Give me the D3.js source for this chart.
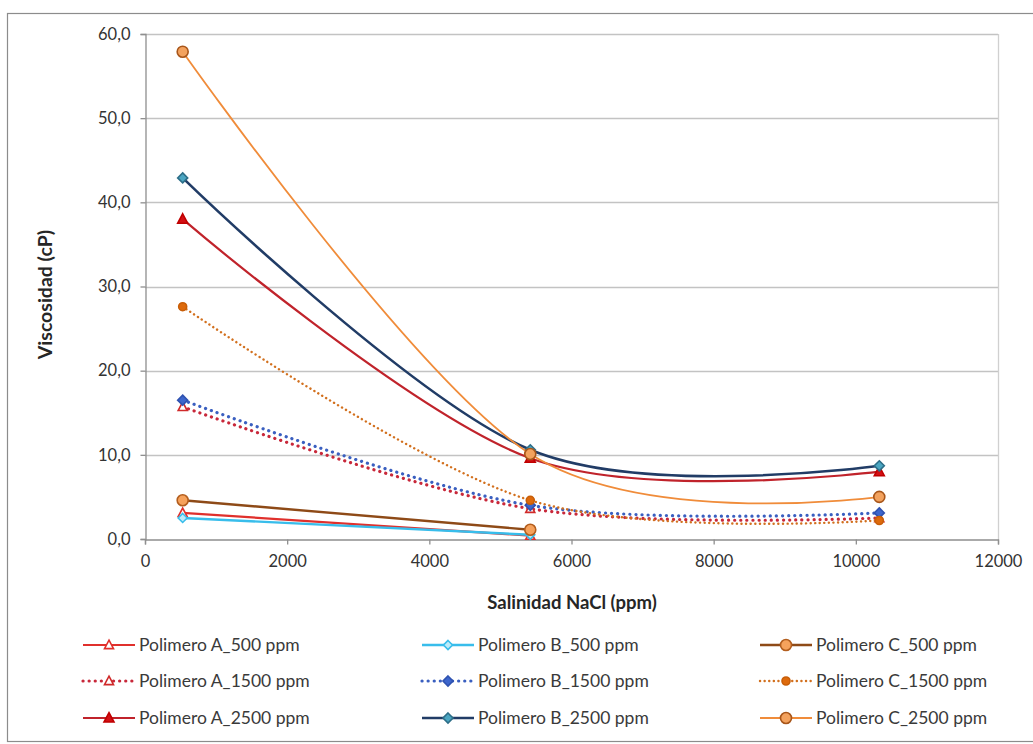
<!DOCTYPE html>
<html>
<head>
<meta charset="utf-8">
<script src="https://cdn.jsdelivr.net/npm/d3@7"></script>
<style>
  html, body { margin: 0; padding: 0; background: #fff; }
  svg { display: block; font-family: Lato, "Open Sans", sans-serif; }
</style>
</head>
<body>
<svg id="chart" width="1033" height="744"></svg>
<script>
// Salinity levels (ppm NaCl) at which viscosity was measured
const salinity = [530, 5420, 10330];

// Viscosity (cP) per polymer / concentration
const polA500  = [3.1, 0.4];
const polA1500 = [15.7, 3.6, 2.5];
const polA2500 = [38.0, 9.6, 8.0];
const polB500  = [2.5, 0.5];
const polB1500 = [16.5, 4.0, 3.1];
const polB2500 = [42.9, 10.6, 8.7];
const polC500  = [4.6, 1.1];
const polC1500 = [27.6, 4.6, 2.2];
const polC2500 = [57.9, 10.1, 5.0];

const seriesNames = [
  "Polimero A_500 ppm", "Polimero A_1500 ppm", "Polimero A_2500 ppm",
  "Polimero B_500 ppm", "Polimero B_1500 ppm", "Polimero B_2500 ppm",
  "Polimero C_500 ppm", "Polimero C_1500 ppm", "Polimero C_2500 ppm"
];
const seriesValues = [polA500, polA1500, polA2500, polB500, polB1500, polB2500, polC500, polC1500, polC2500];

const xTicks = [0, 2000, 4000, 6000, 8000, 10000, 12000];
const yTicks = [0, 10, 20, 30, 40, 50, 60];

// Visual style of each series
const styles = [
  { line: "#E0302C", width: 2.2, dash: null,     shape: "tri",  fill: "#fff",    stroke: "#E0302C", size: 9 },
  { line: "#C8283A", width: 3.2, dash: "0.1,6",  shape: "tri",  fill: "#fff",    stroke: "#D02A2A", size: 9 },
  { line: "#C0232B", width: 2.2, dash: null,     shape: "tri",  fill: "#D40F14", stroke: "#C00000", size: 10 },
  { line: "#38BDEB", width: 2.4, dash: null,     shape: "dia",  fill: "#BDEBFA", stroke: "#38BDEB", size: 9 },
  { line: "#3A5FC0", width: 3.2, dash: "0.1,6",  shape: "dia",  fill: "#3D66CC", stroke: "#2F52B0", size: 10 },
  { line: "#213C66", width: 2.6, dash: null,     shape: "dia",  fill: "#4BA6C2", stroke: "#2D6E88", size: 10 },
  { line: "#8E4A17", width: 2.4, dash: null,     shape: "circ", fill: "#F6A25C", stroke: "#B35E1E", size: 11 },
  { line: "#D2701E", width: 2.4, dash: "0.1,4.5", shape: "circ", fill: "#DE6A0C", stroke: "#C85E08", size: 8 },
  { line: "#F08C3A", width: 1.8, dash: null,     shape: "circ", fill: "#F3A25E", stroke: "#A8561A", size: 11 }
];

const svg = d3.select("#chart");

// outer chart frame
svg.append("rect")
  .attr("x", 7.5).attr("y", 13.5).attr("width", 1040).attr("height", 728)
  .attr("fill", "#fff").attr("stroke", "#8c8c8c").attr("stroke-width", 1.2);

const plot = { left: 145, right: 998, top: 34, bottom: 539 };

const x = d3.scaleLinear().domain([0, 12000]).range([plot.left, plot.right]);
const y = d3.scaleLinear().domain([0, 60]).range([plot.bottom, plot.top]);

// gridlines
svg.append("g")
  .selectAll("line").data(yTicks.filter(d => d > 0)).join("line")
  .attr("x1", plot.left).attr("x2", plot.right)
  .attr("y1", d => Math.round(y(d)) + 0.5).attr("y2", d => Math.round(y(d)) + 0.5)
  .attr("stroke", "#c3c3c3").attr("stroke-width", 1.3);

// right edge of plot area
svg.append("line")
  .attr("x1", plot.right + 0.5).attr("x2", plot.right + 0.5)
  .attr("y1", plot.top).attr("y2", plot.bottom)
  .attr("stroke", "#d0d0d0").attr("stroke-width", 1.3);

const fmt = d => d.toFixed(1).replace(".", ",");

const yAxis = svg.append("g")
  .attr("transform", `translate(${plot.left + 0.5},0)`)
  .call(d3.axisLeft(y).tickValues(yTicks).tickFormat(fmt).tickSize(5).tickPadding(10));
const xAxis = svg.append("g")
  .attr("transform", `translate(0,${Math.round(plot.bottom) + 0.5})`)
  .call(d3.axisBottom(x).tickValues(xTicks).tickFormat(d3.format("d")).tickSize(5).tickPadding(11));

[xAxis, yAxis].forEach(g => {
  g.select(".domain").attr("stroke", "#8f8f8f").attr("stroke-width", 1.3);
  g.selectAll(".tick line").attr("stroke", "#8f8f8f").attr("stroke-width", 1.3);
  g.selectAll(".tick text").attr("fill", "#333").style("font-size", "16.5px")
    .style("font-family", "Lato, 'Open Sans', sans-serif");
});

// axis titles
svg.append("text")
  .attr("x", 572).attr("y", 609)
  .attr("text-anchor", "middle").attr("fill", "#262626")
  .style("font-size", "18.5px").style("font-weight", "bold")
  .text("Salinidad NaCl (ppm)");
svg.append("text")
  .attr("transform", `translate(52,${(plot.top + plot.bottom) / 2 + 8}) rotate(-90)`)
  .attr("text-anchor", "middle").attr("fill", "#262626")
  .style("font-size", "19.5px").style("font-weight", "bold")
  .text("Viscosidad (cP)");

// marker drawing helper
function marker(g, shape, st, cx, cy) {
  const s = st.size;
  let el;
  if (shape === "circ") {
    el = g.append("circle").attr("cx", cx).attr("cy", cy).attr("r", s / 2);
  } else if (shape === "tri") {
    const h = s * 0.9;
    el = g.append("path").attr("d",
      `M${cx},${cy - h * 0.6}L${cx + s / 2},${cy + h * 0.45}L${cx - s / 2},${cy + h * 0.45}Z`);
  } else {
    el = g.append("path").attr("d",
      `M${cx},${cy - s / 2}L${cx + s / 2},${cy}L${cx},${cy + s / 2}L${cx - s / 2},${cy}Z`);
  }
  el.attr("fill", st.fill).attr("stroke", st.stroke).attr("stroke-width", 1.6);
}

// smoothed series lines
const line = d3.line()
  .x(d => x(d[0])).y(d => y(d[1]))
  .curve(d3.curveCardinal.tension(0));

const series = seriesValues.map((vals, i) => ({
  name: seriesNames[i],
  style: styles[i],
  points: vals.map((v, j) => [salinity[j], v])
}));

const gSeries = svg.append("g");
series.forEach(s => {
  const g = gSeries.append("g");
  g.append("path").attr("d", line(s.points))
    .attr("fill", "none").attr("stroke", s.style.line)
    .attr("stroke-width", s.style.width)
    .attr("stroke-dasharray", s.style.dash)
    .attr("stroke-linecap", s.style.dash ? "round" : "butt");
  s.points.forEach(p => marker(g, s.style.shape, s.style, x(p[0]), y(p[1])));
});

// legend: three columns, three rows
const legCols = [83, 422, 760];
const legRows = [645, 681, 718];
series.forEach((s, i) => {
  const col = Math.floor(i / 3), row = i % 3;
  const lx = legCols[col], ly = legRows[row];
  const g = svg.append("g");
  g.append("line")
    .attr("x1", lx).attr("x2", lx + 52).attr("y1", ly).attr("y2", ly)
    .attr("stroke", s.style.line).attr("stroke-width", s.style.width)
    .attr("stroke-dasharray", s.style.dash)
    .attr("stroke-linecap", s.style.dash ? "round" : "butt");
  marker(g, s.style.shape, s.style, lx + 26, ly);
  g.append("text")
    .attr("x", lx + 56).attr("y", ly + 6)
    .attr("fill", "#3a3a3a").style("font-size", "17.5px")
    .text(s.name);
});
</script>
</body>
</html>
